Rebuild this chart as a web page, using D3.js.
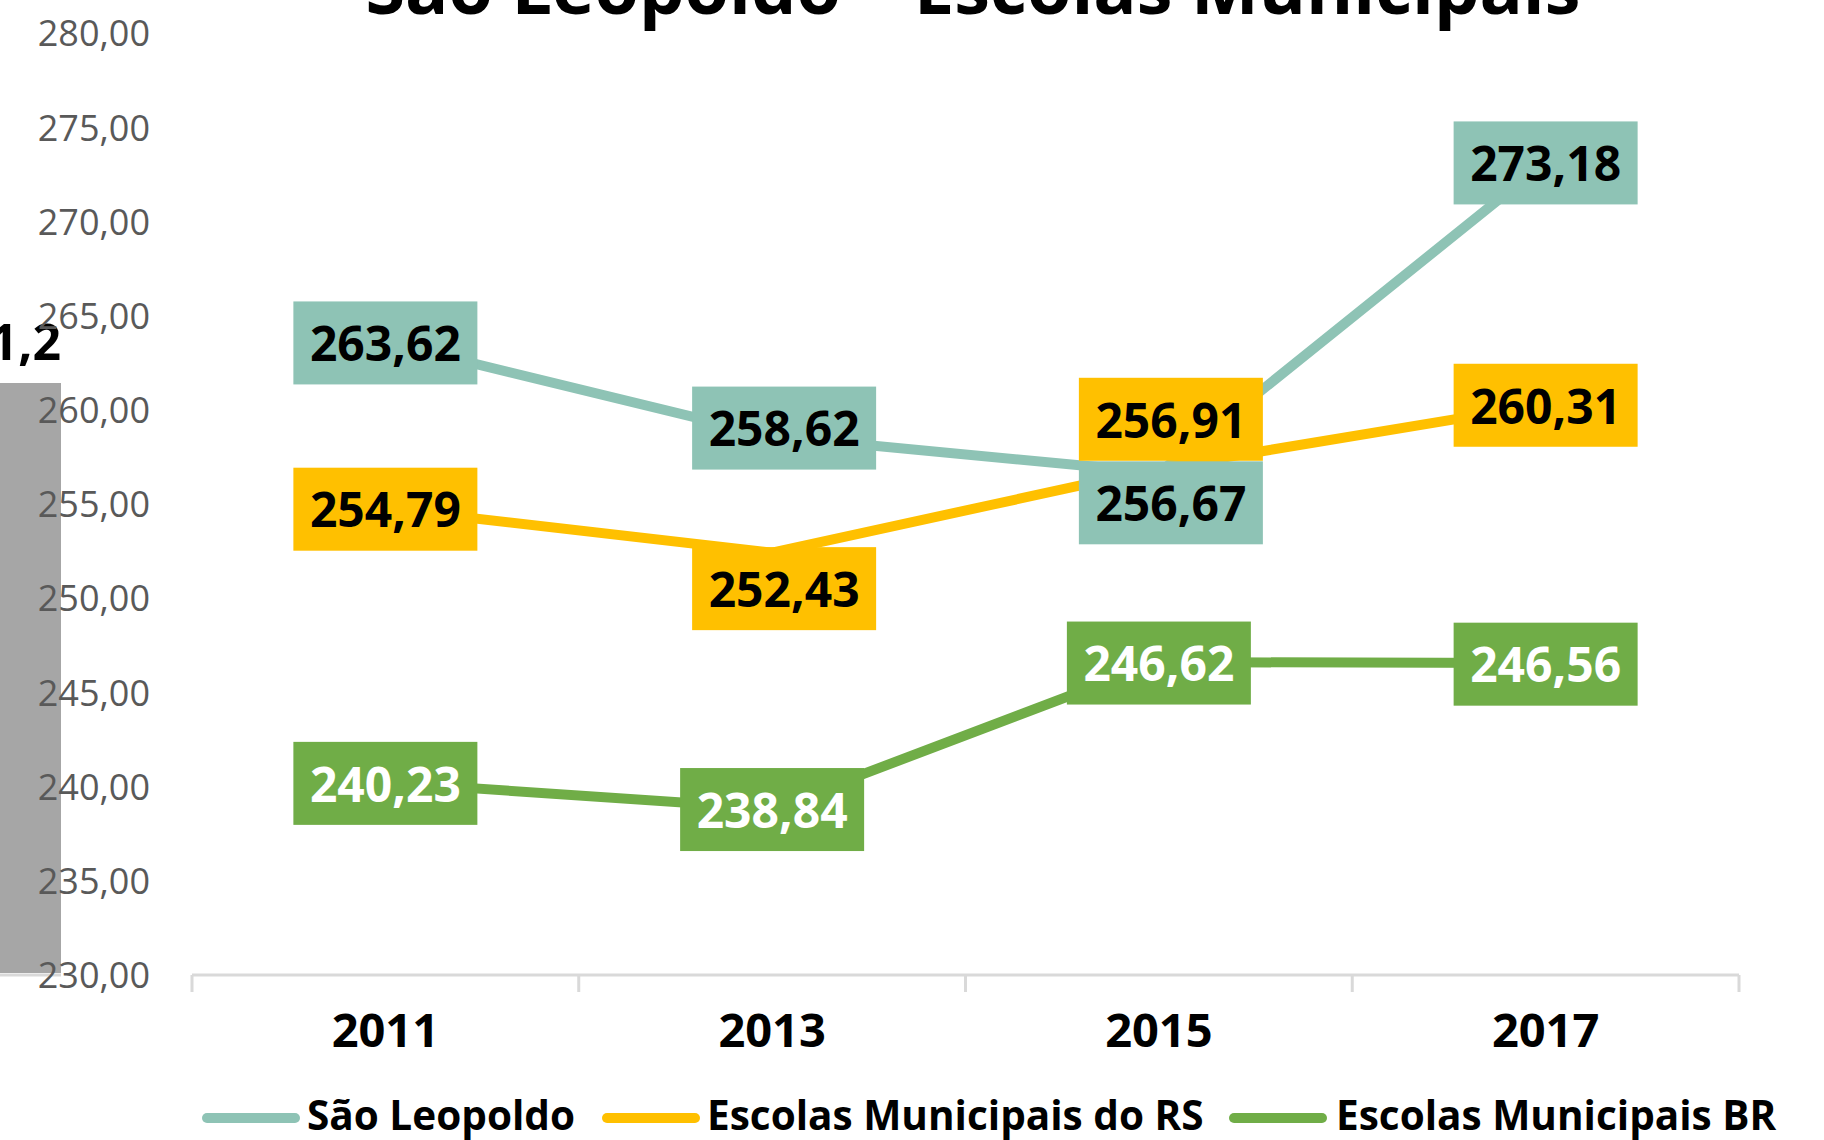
<!DOCTYPE html>
<html>
<head>
<meta charset="utf-8">
<script src="https://cdn.jsdelivr.net/npm/d3@7/dist/d3.min.js"></script>
<style>
  html, body { margin: 0; padding: 0; background: #fff; }
  svg { display: block; font-family: "Open Sans", "Noto Sans", sans-serif; }
</style>
</head>
<body>
<svg id="chart" width="1824" height="1140"></svg>
<script>
// Proficiency averages per edition
const years = ["2011", "2013", "2015", "2017"];
const saoLeopoldo = [263.62, 258.62, 256.67, 273.18];
const municipaisRS = [254.79, 252.43, 256.91, 260.31];
const municipaisBR = [240.23, 238.84, 246.62, 246.56];
const seriesNames = ["São Leopoldo", "Escolas Municipais do RS", "Escolas Municipais BR"];
const yTickValues = [230, 235, 240, 245, 250, 255, 260, 265, 270, 275, 280];
const titleText = "São Leopoldo – Escolas Municipais";

// Label nudges (px) where boxes would otherwise collide
const shiftSL = [[0, 0], [12, -9], [12, 29], [0, 0]];
const shiftRS = [[0, 0], [12, 35], [12, -50], [0, 0]];
const shiftBR = [[0, 0], [0, 0], [0, 0], [0, 0]];

const colors = ["#8EC3B5", "#FFC000", "#70AD47"];
const labelText = ["#000", "#000", "#fff"];

const series = [
  { name: seriesNames[0], values: saoLeopoldo, shift: shiftSL, color: colors[0], text: labelText[0] },
  { name: seriesNames[1], values: municipaisRS, shift: shiftRS, color: colors[1], text: labelText[1] },
  { name: seriesNames[2], values: municipaisBR, shift: shiftBR, color: colors[2], text: labelText[2] }
];

const ptBR = d3.formatLocale({ decimal: ",", thousands: ".", grouping: [3], currency: ["R$", ""] });
const fmt = ptBR.format(".2f");

const svg = d3.select("#chart");

const x = d3.scaleBand().domain(years).range([192, 1739]);
const y = d3.scaleLinear().domain([230, 280]).range([975, 33.5]);

// Partial neighbouring column on the left edge
svg.append("rect").attr("x", 0).attr("y", 383).attr("width", 61).attr("height", 590).attr("fill", "#A6A6A6");
svg.append("line").attr("x1", 0).attr("x2", 61).attr("y1", 975).attr("y2", 975)
  .attr("stroke", "#D9D9D9").attr("stroke-width", 3);
svg.append("text").attr("x", 61).attr("y", 360).attr("text-anchor", "end")
  .attr("font-weight", 700).attr("font-size", 50).attr("fill", "#000").text("1,2");

// Category axis
const xAxis = svg.append("g").attr("transform", "translate(0,975)");
xAxis.append("line").attr("x1", 192).attr("x2", 1739).attr("stroke", "#D9D9D9").attr("stroke-width", 3);
const bounds = years.map(d => x(d)).concat([x.range()[1]]);
xAxis.selectAll("line.tick").data(bounds).join("line").attr("class", "tick")
  .attr("x1", d => d).attr("x2", d => d).attr("y1", 0).attr("y2", 17)
  .attr("stroke", "#D9D9D9").attr("stroke-width", 3);
xAxis.selectAll("text").data(years).join("text")
  .attr("x", d => x(d) + x.bandwidth() / 2).attr("y", 72)
  .attr("text-anchor", "middle").attr("font-weight", 700).attr("font-size", 47)
  .attr("fill", "#000").text(d => d);

// Series lines
const line = d3.line().x((d, i) => x(years[i]) + x.bandwidth() / 2).y(d => y(d));
svg.append("g").selectAll("path").data(series).join("path")
  .attr("d", s => line(s.values)).attr("fill", "none")
  .attr("stroke", s => s.color).attr("stroke-width", 10).attr("stroke-linejoin", "round");

// Value labels
const boxW = 184, boxH = 83;
const labels = svg.append("g");
series.forEach(s => {
  s.values.forEach((v, i) => {
    const cx = x(years[i]) + x.bandwidth() / 2 + s.shift[i][0];
    const cy = y(v) + s.shift[i][1];
    labels.append("rect").attr("x", cx - boxW / 2).attr("y", cy - boxH / 2 + 1)
      .attr("width", boxW).attr("height", boxH).attr("fill", s.color);
    labels.append("text").attr("x", cx).attr("y", cy + 2).attr("dy", "0.36em")
      .attr("text-anchor", "middle").attr("font-weight", 700).attr("font-size", 48)
      .attr("fill", s.text).text(fmt(v));
  });
});

// Value axis labels
svg.append("g").selectAll("text").data(yTickValues).join("text")
  .attr("x", 150).attr("y", d => y(d)).attr("dy", "0.36em")
  .attr("text-anchor", "end").attr("font-size", 36).attr("fill", "#595959")
  .text(d => fmt(d));

// Title (runs off the top edge)
svg.append("text").attr("x", 973).attr("y", 14).attr("text-anchor", "middle")
  .attr("font-weight", 700).attr("font-size", 72).attr("fill", "#000")
  .attr("textLength", 1215).attr("lengthAdjust", "spacingAndGlyphs").text(titleText);

// Legend
const legendPos = [{ x: 202, tx: 307 }, { x: 602, tx: 707 }, { x: 1229, tx: 1336 }];
const legend = svg.append("g");
series.forEach((s, i) => {
  legend.append("line").attr("x1", legendPos[i].x + 5).attr("x2", legendPos[i].x + 93)
    .attr("y1", 1118).attr("y2", 1118).attr("stroke", s.color)
    .attr("stroke-width", 10).attr("stroke-linecap", "round");
  legend.append("text").attr("x", legendPos[i].tx).attr("y", 1130)
    .attr("font-weight", 700).attr("font-size", 40.5).attr("fill", "#000").text(s.name);
});
</script>
</body>
</html>
